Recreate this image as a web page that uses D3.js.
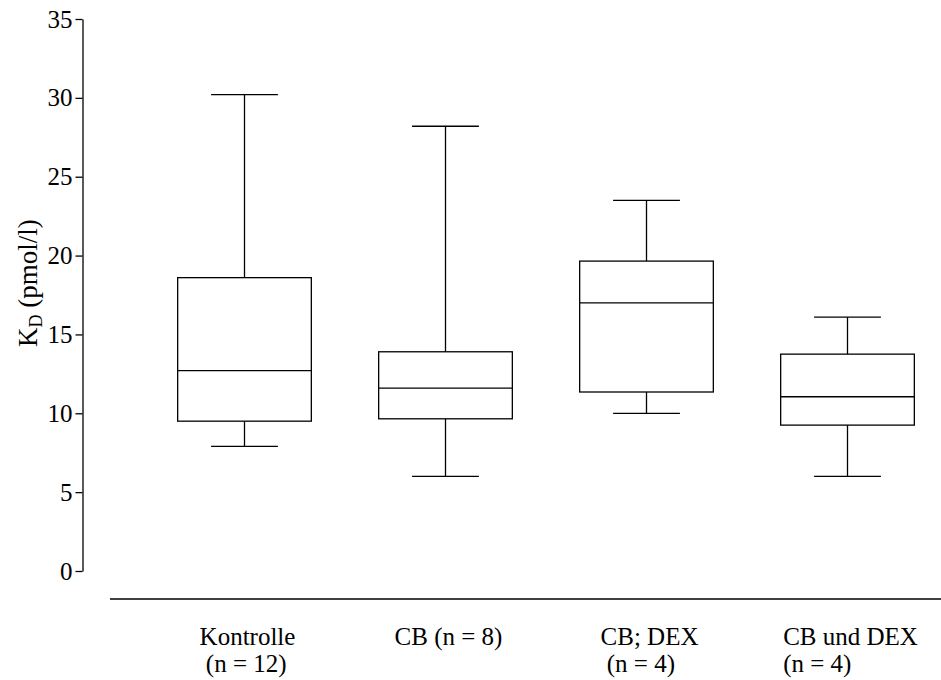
<html>
<head>
<meta charset="utf-8">
<script src="https://cdn.jsdelivr.net/npm/d3@7"></script>
</head>
<body style="margin:0">
<svg id="chart" width="941" height="680"></svg>
<script>
// ---- data ----
const categories = ["Kontrolle", "CB", "CB; DEX", "CB und DEX"];
const labelLines = [["Kontrolle", " (n = 12)"], ["CB (n = 8)"], ["CB; DEX", " (n = 4)"], ["CB und DEX", "(n = 4)"]];
const whiskerLow  = [7.9, 6.0, 10.0, 6.0];
const q1          = [9.5, 9.65, 11.35, 9.25];
const median      = [12.7, 11.6, 17.0, 11.05];
const q3          = [18.6, 13.9, 19.65, 13.75];
const whiskerHigh = [30.2, 28.2, 23.5, 16.1];
const yTicks = [0, 5, 10, 15, 20, 25, 30, 35];

// ---- layout ----
const FONT = "Liberation Serif";
const W = 941, H = 680;
const svg = d3.select("#chart");
const axisX = 82.5;
const y = d3.scaleLinear().domain([0, 35]).range([571, 19]);
const x = d3.scaleBand().domain(categories).range([144, 948]).paddingInner(0.335).paddingOuter(0.1675);
const stroke = "#000", sw = 1.3;

// y axis
const yAxis = svg.append("g")
  .attr("transform", `translate(${axisX},0)`)
  .call(d3.axisLeft(y).tickValues(yTicks).tickSizeOuter(0).tickSizeInner(7).tickPadding(3).tickFormat(d3.format("d")));
yAxis.attr("font-family", FONT).attr("font-size", 25);
yAxis.selectAll("path, line").attr("stroke", stroke).attr("stroke-width", sw);
yAxis.selectAll("text").attr("fill", "#000")
  .style("font-family", FONT).style("font-size", "25px");

// y title
const yt = svg.append("text")
  .attr("transform", "translate(36.5,283) rotate(-90)")
  .attr("text-anchor", "middle")
  .style("font-family", FONT)
  .style("font-size", "27px");
yt.append("tspan").text("K");
yt.append("tspan").attr("dy", 5).style("font-size", "18px").text("D");
yt.append("tspan").attr("dy", -5).text(" (pmol/l)");

// baseline
svg.append("line")
  .attr("x1", 110).attr("x2", W).attr("y1", 599).attr("y2", 599)
  .attr("stroke", stroke).attr("stroke-width", sw);

// boxes
const data = categories.map((c, i) => ({ c, lo: whiskerLow[i], q1: q1[i], med: median[i], q3: q3[i], hi: whiskerHigh[i] }));
const bw = x.bandwidth();
const g = svg.append("g").selectAll("g").data(data).join("g")
  .attr("transform", d => `translate(${x(d.c)},0)`)
  .attr("stroke", stroke).attr("stroke-width", sw).attr("fill", "none");

g.append("line").attr("x1", bw / 2).attr("x2", bw / 2).attr("y1", d => y(d.hi)).attr("y2", d => y(d.q3));
g.append("line").attr("x1", bw / 2).attr("x2", bw / 2).attr("y1", d => y(d.q1)).attr("y2", d => y(d.lo));
g.append("line").attr("x1", bw / 4).attr("x2", bw * 3 / 4).attr("y1", d => y(d.hi)).attr("y2", d => y(d.hi));
g.append("line").attr("x1", bw / 4).attr("x2", bw * 3 / 4).attr("y1", d => y(d.lo)).attr("y2", d => y(d.lo));
g.append("rect").attr("x", 0).attr("width", bw).attr("y", d => y(d.q3)).attr("height", d => y(d.q1) - y(d.q3)).attr("fill", "#fff");
g.append("line").attr("x1", 0).attr("x2", bw).attr("y1", d => y(d.med)).attr("y2", d => y(d.med));

// category labels
categories.forEach((c, i) => {
  const cx = x(c) + bw / 2 + 3;
  const t = svg.append("text").attr("xml:space", "preserve")
    .style("white-space", "pre")
    .style("font-family", FONT).style("font-size", "25px").attr("fill", "#000");
  const first = t.append("tspan").attr("y", 645).text(labelLines[i][0]);
  const w1 = first.node().getComputedTextLength();
  const left = cx - w1 / 2;
  first.attr("x", left);
  if (labelLines[i][1]) t.append("tspan").attr("x", left).attr("y", 671.7).text(labelLines[i][1]);
});
</script>
</body>
</html>
